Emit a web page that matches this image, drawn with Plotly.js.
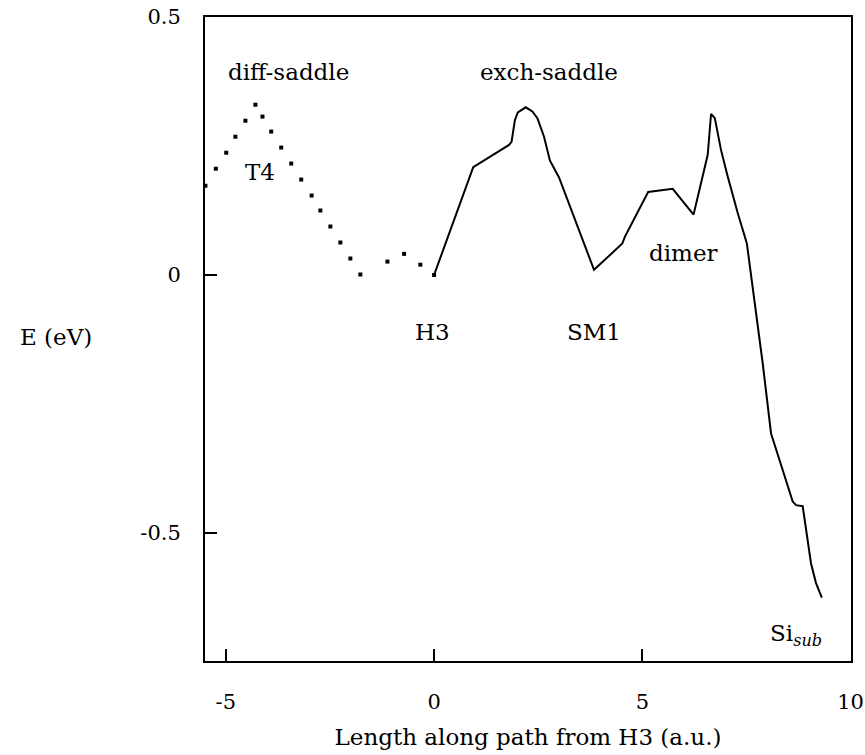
<!DOCTYPE html>
<html>
<head>
<meta charset="utf-8">
<script src="https://cdn.plot.ly/plotly-3.0.1.min.js"></script>
<style>
html,body{margin:0;padding:0;background:#fff;}
#plot{width:865px;height:755px;}
</style>
</head>
<body>
<div id="plot"></div>
<script>
// Dotted path (diffusion from T4 to H3)
const diffX = [-5.49, -5.24, -4.99, -4.77, -4.53, -4.29, -4.12, -3.91, -3.67, -3.43, -3.19, -2.94, -2.73, -2.49, -2.25, -2.01, -1.77, -1.12, -0.72, -0.33, 0.0];
const diffY = [0.173, 0.206, 0.237, 0.268, 0.299, 0.330, 0.307, 0.278, 0.247, 0.216, 0.185, 0.154, 0.125, 0.094, 0.063, 0.032, 0.001, 0.026, 0.041, 0.020, 0.0];

// Solid path (exchange from H3 to Si_sub)
const exchX = [0.0, 0.94, 1.80, 1.86, 1.94, 2.01, 2.20, 2.36, 2.48, 2.64, 2.78, 3.00, 3.84, 4.52, 4.58, 5.14, 5.73, 6.23, 6.57, 6.65, 6.74, 6.89, 7.05, 7.29, 7.51, 7.63, 7.69, 7.89, 8.09, 8.17, 8.37, 8.61, 8.69, 8.85, 8.97, 9.05, 9.17, 9.31];
const exchY = [0.0, 0.209, 0.252, 0.258, 0.300, 0.315, 0.325, 0.317, 0.304, 0.268, 0.222, 0.189, 0.010, 0.061, 0.074, 0.161, 0.167, 0.117, 0.233, 0.312, 0.304, 0.242, 0.191, 0.120, 0.061, -0.010, -0.048, -0.171, -0.307, -0.326, -0.378, -0.439, -0.446, -0.448, -0.514, -0.559, -0.597, -0.625];

const xTickVals = [-5, 0, 5, 10];
const xTickText = ["-5", "0", "5", "10"];
const yTickVals = [-0.5, 0, 0.5];
const yTickText = ["-0.5", "0", "0.5"];

const labelText = ["diff-saddle", "exch-saddle", "T4", "H3", "SM1", "dimer", "Si<sub><i>sub</i></sub>"];
const labelX = [-3.49, 2.75, -4.19, -0.04, 3.83, 6.0, 8.69];
const labelY = [0.393, 0.393, 0.200, -0.11, -0.11, 0.043, -0.698];

const FONT = 'DejaVu Serif';

const traces = [
  {x: diffX, y: diffY, mode: 'markers', type: 'scatter',
   marker: {symbol: 'square', size: 4, color: '#000', line: {width: 0}},
   hoverinfo: 'skip'},
  {x: exchX, y: exchY, mode: 'lines', type: 'scatter',
   line: {color: '#000', width: 2}, hoverinfo: 'skip'}
];

const annotations = labelText.map((t, i) => ({
  x: labelX[i], y: labelY[i], xref: 'x', yref: 'y', text: t, showarrow: false,
  font: {family: FONT, size: 23, color: '#000'}, xanchor: 'center', yanchor: 'middle'
}));
annotations.push({
  x: (56 - 205) / (852 - 205), y: (661 - 337) / (661 - 17),
  xref: 'paper', yref: 'paper', text: 'E (eV)', showarrow: false,
  xanchor: 'center', yanchor: 'middle',
  font: {family: FONT, size: 23, color: '#000'}
});

const layout = {
  width: 865, height: 755,
  margin: {l: 205, r: 14, t: 17, b: 94},
  paper_bgcolor: '#fff', plot_bgcolor: '#fff',
  showlegend: false,
  font: {family: FONT, size: 21, color: '#000'},
  xaxis: {
    range: [-5.5, 10.01], tickvals: xTickVals, ticktext: xTickText,
    ticks: 'inside', ticklen: 12, tickwidth: 2, tickcolor: '#000',
    showline: true, linewidth: 2, linecolor: '#000', mirror: true,
    showgrid: false, zeroline: false, ticklabelstandoff: 21,
    ticklabeloverflow: 'allow',
    tickfont: {family: FONT, size: 21, color: '#000'},
    title: {text: 'Length along path from H3 (a.u.)', font: {family: FONT, size: 23, color: '#000'}, standoff: 16}
  },
  yaxis: {
    range: [-0.748, 0.5], tickvals: yTickVals, ticktext: yTickText,
    ticks: 'inside', ticklen: 12, tickwidth: 2, tickcolor: '#000',
    showline: true, linewidth: 2, linecolor: '#000', mirror: true,
    showgrid: false, zeroline: false, ticklabelstandoff: 18,
    tickfont: {family: FONT, size: 21, color: '#000'}
  },
  annotations: annotations
};

Plotly.newPlot('plot', traces, layout, {displayModeBar: false, staticPlot: true});
</script>
</body>
</html>
